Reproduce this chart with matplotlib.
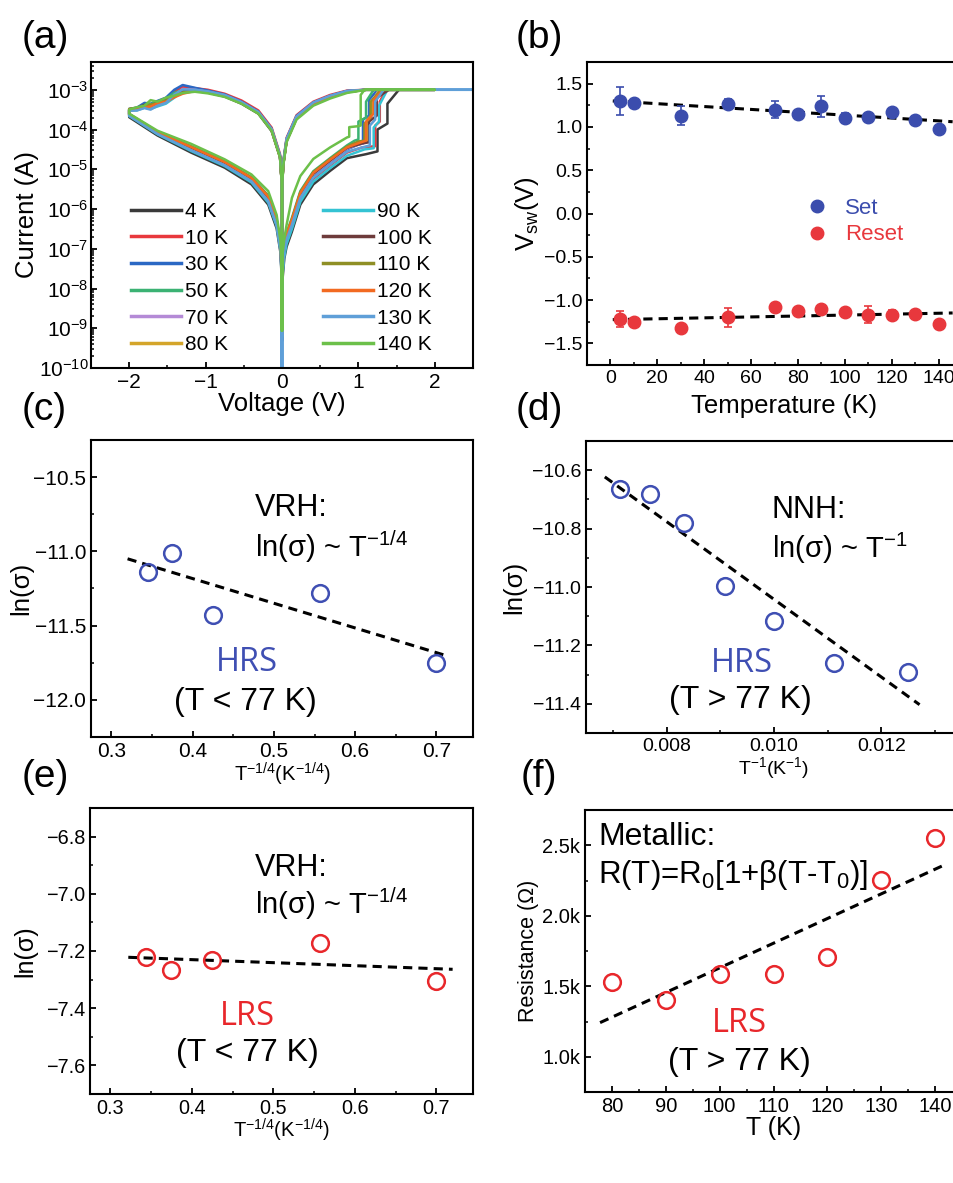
import numpy as np
import matplotlib
matplotlib.use("Agg")
import matplotlib.pyplot as plt
from matplotlib.lines import Line2D
from matplotlib.ticker import MultipleLocator, FuncFormatter, LogLocator, NullFormatter

# ── Panel (a): I-V loops, log10(current) ────────────────────────────────
TEMPS = ["4 K", "10 K", "30 K", "50 K", "70 K", "80 K",
         "90 K", "100 K", "110 K", "120 K", "130 K", "140 K"]
COLORS = ["#3a3a3a", "#e8383d", "#2b68c4", "#3bb273", "#b48ad6", "#d4a52a",
          "#34c3d3", "#6e3b3b", "#8f8f25", "#f26a21", "#5f9fd8", "#6cc04a"]

V_HRS_POS = [0.0, 0.003, 0.01, 0.03, 0.06, 0.13, 0.24, 0.41, 0.63, 0.85]
HRS_POS = [
    [-9.3, -8.2, -7.7, -7.25, -6.95, -6.57, -5.89, -5.38, -5.04, -4.72],
    [-9.2, -8.0, -7.5, -7.1, -6.8, -6.42, -5.75, -5.24, -4.90, -4.58],
    [-9.1, -7.9, -7.4, -6.95, -6.7, -6.33, -5.66, -5.16, -4.82, -4.50],
    [-9.0, -7.8, -7.3, -6.9, -6.6, -6.22, -5.55, -5.05, -4.72, -4.40],
    [-9.1, -7.9, -7.4, -6.95, -6.68, -6.32, -5.64, -5.13, -4.80, -4.48],
    [-9.1, -7.9, -7.35, -6.9, -6.65, -6.28, -5.60, -5.10, -4.76, -4.45],
    [-9.2, -8.1, -7.6, -7.2, -6.88, -6.5, -5.82, -5.31, -4.97, -4.66],
    [-9.1, -7.9, -7.4, -6.95, -6.66, -6.30, -5.62, -5.11, -4.78, -4.46],
    [-9.0, -7.8, -7.35, -6.9, -6.62, -6.26, -5.58, -5.07, -4.74, -4.43],
    [-9.15, -7.85, -7.35, -6.9, -6.63, -6.27, -5.60, -5.09, -4.76, -4.45],
    [-10.5, -8.0, -7.5, -7.05, -6.76, -6.4, -5.72, -5.21, -4.88, -4.56],
    [-9.05, -7.6, -7.1, -6.75, -6.4, -5.72, -5.17, -4.74, -4.45, -4.2],
]
# stepwise set transitions (voltage, log10 I)
SET_V = [
    [1.1, 1.25, 1.25, 1.38, 1.38, 1.53],
    [1.05, 1.22, 1.22, 1.28, 1.28, 1.36],
    [1.0, 1.06, 1.06, 1.14, 1.14, 1.25],
    [0.95, 1.0, 1.0, 1.1, 1.1, 1.2],
    [1.02, 1.1, 1.1, 1.17, 1.17, 1.27],
    [1.03, 1.12, 1.12, 1.18, 1.18, 1.28],
    [1.08, 1.2, 1.2, 1.27, 1.27, 1.38],
    [1.05, 1.14, 1.14, 1.24, 1.24, 1.4],
    [1.0, 1.08, 1.08, 1.16, 1.16, 1.3],
    [1.02, 1.1, 1.1, 1.2, 1.2, 1.32],
    [1.05, 1.15, 1.15, 1.22, 1.22, 1.33],
    [0.88, 0.88, 0.98, 1.03, 1.03, 1.08],
]
SET_I = [
    [-4.62, -4.55, -4.0, -3.85, -3.35, -3.0],
    [-4.45, -4.42, -3.9, -3.8, -3.3, -3.0],
    [-4.38, -4.35, -3.75, -3.65, -3.25, -3.0],
    [-4.28, -4.25, -3.8, -3.7, -3.3, -3.0],
    [-4.36, -4.33, -3.85, -3.7, -3.35, -3.0],
    [-4.33, -4.3, -3.75, -3.62, -3.3, -3.0],
    [-4.5, -4.47, -3.95, -3.8, -3.4, -3.0],
    [-4.35, -4.32, -3.8, -3.65, -3.2, -3.0],
    [-4.3, -4.28, -3.85, -3.7, -3.3, -3.0],
    [-4.33, -4.28, -3.8, -3.6, -3.25, -3.0],
    [-4.45, -4.4, -3.9, -3.75, -3.3, -3.0],
    [-4.18, -3.94, -3.92, -3.9, -3.13, -3.0],
]
V_MAX = [2.0, 2.0, 2.0, 2.0, 2.0, 2.0, 2.0, 2.0, 2.0, 2.0, 2.5, 2.0]
I_COMPLIANCE = -3.0

V_LRS_POS = [1.1, 0.85, 0.63, 0.41, 0.19, 0.06, 0.017, 0.005, 0.0]
LRS_POS = [
    [-3.0, -3.05, -3.18, -3.36, -3.71, -4.28, -4.87, -5.3, -9.3],
    [-3.0, -3.02, -3.13, -3.3, -3.64, -4.21, -4.8, -5.24, -9.2],
    [-3.0, -3.03, -3.15, -3.32, -3.66, -4.23, -4.82, -5.26, -9.1],
    [-3.0, -3.06, -3.19, -3.37, -3.72, -4.29, -4.88, -5.3, -9.0],
    [-3.0, -3.04, -3.16, -3.33, -3.68, -4.25, -4.84, -5.27, -9.1],
    [-3.0, -3.05, -3.17, -3.35, -3.7, -4.27, -4.86, -5.28, -9.1],
    [-3.0, -3.04, -3.17, -3.34, -3.69, -4.26, -4.85, -5.28, -9.2],
    [-3.0, -3.05, -3.18, -3.36, -3.71, -4.28, -4.87, -5.29, -9.1],
    [-3.0, -3.06, -3.19, -3.37, -3.72, -4.29, -4.88, -5.3, -9.0],
    [-3.0, -3.05, -3.18, -3.36, -3.71, -4.28, -4.87, -5.29, -9.15],
    [-3.0, -3.03, -3.15, -3.32, -3.67, -4.24, -4.83, -5.26, -10.5],
    [-3.0, -3.08, -3.22, -3.4, -3.75, -4.32, -4.9, -5.32, -9.05],
]

V_LRS_NEG = [-0.005, -0.026, -0.136, -0.31, -0.53, -0.75, -0.97, -1.14,
             -1.3, -1.41, -1.52, -1.63, -1.72, -1.8, -1.9, -2.0]
LRS_NEG = [
    [-5.3, -4.7, -4.04, -3.6, -3.35, -3.17, -3.07, -3.02, -2.98, -3.1, -3.24, -3.33, -3.42, -3.4, -3.5, -3.52],
    [-5.2, -4.62, -3.95, -3.52, -3.27, -3.1, -3.0, -2.96, -2.92, -3.05, -3.22, -3.3, -3.38, -3.36, -3.47, -3.5],
    [-5.25, -4.65, -3.98, -3.55, -3.3, -3.12, -3.02, -2.95, -2.88, -3.0, -3.2, -3.28, -3.35, -3.33, -3.45, -3.48],
    [-5.28, -4.68, -4.0, -3.58, -3.33, -3.15, -3.06, -3.02, -3.0, -3.08, -3.22, -3.3, -3.36, -3.38, -3.46, -3.5],
    [-5.27, -4.67, -4.0, -3.57, -3.32, -3.14, -3.05, -3.0, -2.98, -3.15, -3.3, -3.38, -3.45, -3.42, -3.5, -3.52],
    [-5.28, -4.68, -4.01, -3.58, -3.33, -3.16, -3.07, -3.03, -3.06, -3.18, -3.28, -3.35, -3.38, -3.44, -3.47, -3.5],
    [-5.27, -4.67, -4.0, -3.57, -3.32, -3.14, -3.05, -3.02, -3.02, -3.2, -3.35, -3.42, -3.48, -3.45, -3.52, -3.5],
    [-5.28, -4.68, -4.01, -3.58, -3.33, -3.15, -3.06, -3.02, -3.05, -3.14, -3.25, -3.32, -3.4, -3.38, -3.46, -3.49],
    [-5.29, -4.69, -4.02, -3.59, -3.34, -3.16, -3.07, -3.03, -3.07, -3.16, -3.27, -3.34, -3.37, -3.41, -3.45, -3.48],
    [-5.28, -4.68, -4.01, -3.58, -3.33, -3.15, -3.06, -3.03, -3.1, -3.19, -3.3, -3.34, -3.42, -3.44, -3.48, -3.5],
    [-5.26, -4.66, -3.99, -3.56, -3.31, -3.13, -3.04, -3.0, -2.99, -3.12, -3.33, -3.4, -3.5, -3.46, -3.52, -3.53],
    [-5.3, -4.7, -4.03, -3.6, -3.35, -3.18, -3.09, -3.05, -3.08, -3.15, -3.2, -3.3, -3.26, -3.4, -3.44, -3.5],
]

V_HRS_NEG = [-2.0, -1.63, -1.19, -0.75, -0.4, -0.18, -0.07, -0.02, -0.005, 0.0]
HRS_NEG = [
    [-3.69, -4.15, -4.58, -4.96, -5.38, -5.89, -6.49, -7.1, -7.7, -9.3],
    [-3.64, -4.1, -4.5, -4.88, -5.28, -5.78, -6.37, -7.0, -7.6, -9.2],
    [-3.63, -4.09, -4.48, -4.86, -5.26, -5.75, -6.34, -6.97, -7.57, -9.1],
    [-3.61, -4.06, -4.42, -4.8, -5.2, -5.66, -6.25, -6.88, -7.48, -9.0],
    [-3.63, -4.08, -4.47, -4.85, -5.25, -5.73, -6.32, -6.95, -7.55, -9.1],
    [-3.62, -4.07, -4.44, -4.82, -5.22, -5.7, -6.29, -6.92, -7.52, -9.1],
    [-3.66, -4.12, -4.54, -4.92, -5.33, -5.84, -6.43, -7.05, -7.65, -9.2],
    [-3.62, -4.07, -4.45, -4.83, -5.23, -5.71, -6.3, -6.93, -7.53, -9.1],
    [-3.61, -4.06, -4.43, -4.81, -5.21, -5.68, -6.27, -6.9, -7.5, -9.0],
    [-3.62, -4.07, -4.44, -4.82, -5.22, -5.69, -6.28, -6.91, -7.51, -9.15],
    [-3.65, -4.11, -4.52, -4.9, -5.3, -5.8, -6.4, -7.02, -7.62, -10.5],
    [-3.6, -4.03, -4.36, -4.75, -5.13, -5.55, -6.15, -6.8, -7.4, -9.05],
]

# ── Panel (b): switching voltages ───────────────────────────────────────
T_SW = [4, 10, 30, 50, 70, 80, 90, 100, 110, 120, 130, 140]
V_SET = [1.30, 1.28, 1.13, 1.27, 1.20, 1.15, 1.24, 1.10, 1.12, 1.17, 1.08, 0.98]
V_SET_ERR = [0.16, 0.02, 0.11, 0.05, 0.10, 0.03, 0.12, 0.06, 0.03, 0.03, 0.05, 0.02]
V_RESET = [-1.22, -1.25, -1.32, -1.20, -1.08, -1.13, -1.10, -1.14, -1.17, -1.17, -1.16, -1.28]
V_RESET_ERR = [0.09, 0.02, 0.02, 0.11, 0.02, 0.02, 0.02, 0.02, 0.10, 0.05, 0.02, 0.02]
FIT_T = [1, 146]
SET_FIT = [1.30, 1.06]
RESET_FIT = [-1.226, -1.149]

# ── Panel (c): HRS, T < 77 K ─────────────────────────────────────────────
C_X = [0.345, 0.375, 0.425, 0.557, 0.700]
C_Y = [-11.14, -11.01, -11.43, -11.28, -11.75]
C_FIT_X = [0.32, 0.715]
C_FIT_Y = [-11.05, -11.707]

# ── Panel (d): HRS, T > 77 K ─────────────────────────────────────────────
D_X = [0.00714, 0.00769, 0.00833, 0.00909, 0.0100, 0.01111, 0.0125]
D_Y = [-10.665, -10.68, -10.78, -10.995, -11.115, -11.26, -11.29]
D_FIT_X = [0.00685, 0.01271]
D_FIT_Y = [-10.623, -11.403]

# ── Panel (e): LRS, T < 77 K ─────────────────────────────────────────────
E_X = [0.3435, 0.375, 0.425, 0.557, 0.700]
E_Y = [-7.22, -7.267, -7.232, -7.172, -7.305]
E_FIT_X = [0.322, 0.72]
E_FIT_Y = [-7.222, -7.264]

# ── Panel (f): LRS resistance, T > 77 K ─────────────────────────────────
F_T = [80, 90, 100, 110, 120, 130, 140]
F_R = [1532, 1402, 1587, 1587, 1705, 2256, 2548]
F_FIT_T = [77.8, 142.0]
F_FIT_R = [1242, 2365]

BLUE = "#3f4fb3"
RED = "#e8272b"
SET_BLUE = "#3b4dad"
RESET_RED = "#e8383d"

# ── Style ────────────────────────────────────────────────────────────────
plt.rcParams["font.family"] = ["Liberation Sans", "DejaVu Sans"]
plt.rcParams["mathtext.fontset"] = "custom"
plt.rcParams["mathtext.rm"] = "Liberation Sans"
plt.rcParams["mathtext.it"] = "Liberation Sans:italic"
plt.rcParams["mathtext.default"] = "regular"
plt.rcParams["axes.linewidth"] = 1.5
for ax_ in ("xtick", "ytick"):
    plt.rcParams[f"{ax_}.direction"] = "in"
    plt.rcParams[f"{ax_}.major.size"] = 4
    plt.rcParams[f"{ax_}.minor.size"] = 2.5
    plt.rcParams[f"{ax_}.major.width"] = 1.3
    plt.rcParams[f"{ax_}.minor.width"] = 1.1

fig = plt.figure(figsize=(9.54, 11.83), dpi=100)
W, H = 954.0, 1183.0


def add_ax(left, top, right, bottom):
    return fig.add_axes([left / W, 1 - bottom / H, (right - left) / W, (bottom - top) / H])


def fit_line(ax, x, y):
    ax.plot(x, y, color="black", lw=2.2, ls=(0, (3, 2)), zorder=1)


# (a)
ax = add_ax(91, 62, 473, 368)
for i in range(len(TEMPS)):
    v = V_HRS_POS + SET_V[i] + [V_MAX[i]] + V_LRS_POS + V_LRS_NEG + V_HRS_NEG
    li = HRS_POS[i] + SET_I[i] + [I_COMPLIANCE] + LRS_POS[i] + LRS_NEG[i] + HRS_NEG[i]
    ax.plot(v, 10.0 ** np.array(li), color=COLORS[i], lw=1.8, label=TEMPS[i])
ax.set_yscale("log")
ax.set_xlim(-2.5, 2.5)
ax.set_ylim(1e-10, 5e-3)
ax.xaxis.set_major_locator(MultipleLocator(1))
ax.xaxis.set_minor_locator(MultipleLocator(0.5))
ax.yaxis.set_major_locator(LogLocator(base=10, numticks=20))
ax.yaxis.set_minor_locator(LogLocator(base=10, subs=np.arange(2, 10), numticks=20))
ax.yaxis.set_minor_formatter(NullFormatter())
ax.tick_params(labelsize=15)
ax.tick_params(axis="y", pad=2)
ax.set_xlabel("Voltage (V)", fontsize=18.5, labelpad=0)
ax.set_ylabel("Current (A)", fontsize=18.5, labelpad=0)
leg = ax.legend(ncol=2, frameon=False, fontsize=15, loc="upper left",
                bbox_to_anchor=(0.105, 0.543), handlelength=2.4, handletextpad=0.2,
                columnspacing=4.55, labelspacing=0.37, borderpad=0, borderaxespad=0)
for line in leg.get_lines():
    line.set_linewidth(2.5)

# (b)
ax = add_ax(587, 62, 962, 365)
fit_line(ax, FIT_T, SET_FIT)
fit_line(ax, FIT_T, RESET_FIT)
ax.errorbar(T_SW, V_SET, yerr=V_SET_ERR, fmt="o", color=SET_BLUE, ms=9,
            capsize=3, elinewidth=1.2, capthick=1.2, zorder=3)
ax.errorbar(T_SW, V_RESET, yerr=V_RESET_ERR, fmt="o", color=RESET_RED, ms=9,
            capsize=3, elinewidth=1.2, capthick=1.2, zorder=3)
ax.set_xlim(-10, 150)
ax.set_ylim(-1.75, 1.75)
ax.xaxis.set_major_locator(MultipleLocator(20))
ax.xaxis.set_minor_locator(MultipleLocator(10))
ax.yaxis.set_major_locator(MultipleLocator(0.5))
ax.yaxis.set_minor_locator(MultipleLocator(0.25))
ax.tick_params(labelsize=14)
ax.set_xlabel("Temperature (K)", fontsize=18.5, labelpad=0)
ax.xaxis.set_label_coords(0.525, -0.095)
ax.set_ylabel(r"V$_{\mathregular{sw}}$(V)", fontsize=18.5, labelpad=2)
handles = [Line2D([], [], ls="none", marker="o", ms=9, color=SET_BLUE),
           Line2D([], [], ls="none", marker="o", ms=9, color=RESET_RED)]
ax.legend(handles, ["Set", "Reset"], frameon=False, fontsize=16, loc="upper left",
          bbox_to_anchor=(0.585, 0.552), handletextpad=0.75, handlelength=1.0,
          labelspacing=0.25, borderpad=0, borderaxespad=0,
          labelcolor=[SET_BLUE, RESET_RED])

# (c)
ax = add_ax(91, 440, 473, 737)
fit_line(ax, C_FIT_X, C_FIT_Y)
ax.plot(C_X, C_Y, "o", mfc="none", mec=BLUE, ms=12, mew=1.8)
ax.set_xlim(0.275, 0.745)
ax.set_ylim(-12.25, -10.25)
ax.xaxis.set_major_locator(MultipleLocator(0.1))
ax.xaxis.set_minor_locator(MultipleLocator(0.05))
ax.yaxis.set_major_locator(MultipleLocator(0.5))
ax.yaxis.set_minor_locator(MultipleLocator(0.25))
ax.tick_params(labelsize=15)
ax.set_xlabel(r"T$^{-1/4}$(K$^{-1/4}$)", fontsize=14.5, labelpad=0)
ax.set_ylabel("ln(σ)", fontsize=18.5, labelpad=0)
ax.text(0.43, 0.77, "VRH:", transform=ax.transAxes, fontsize=22, va="center")
ax.text(0.43, 0.64, r"ln(σ) ~ T$^{-1/4}$", transform=ax.transAxes, fontsize=21, va="center")
ax.text(0.408, 0.25, "HRS", transform=ax.transAxes, fontsize=23.5, color=BLUE,
        ha="center", va="center", family="Open Sans")
ax.text(0.405, 0.118, "(T < 77 K)", transform=ax.transAxes, fontsize=23, ha="center", va="center")

# (d)
ax = add_ax(586, 441, 962, 733)
fit_line(ax, D_FIT_X, D_FIT_Y)
ax.plot(D_X, D_Y, "o", mfc="none", mec=BLUE, ms=12, mew=1.8)
ax.set_xlim(0.0065, 0.0135)
ax.set_ylim(-11.5, -10.5)
ax.xaxis.set_major_locator(MultipleLocator(0.002))
ax.xaxis.set_minor_locator(MultipleLocator(0.001))
ax.xaxis.set_major_formatter(FuncFormatter(lambda x, p: f"{x:.3f}"))
ax.yaxis.set_major_locator(MultipleLocator(0.2))
ax.yaxis.set_minor_locator(MultipleLocator(0.1))
ax.tick_params(labelsize=14)
ax.set_xlabel(r"T$^{-1}$(K$^{-1}$)", fontsize=14, labelpad=0)
ax.set_ylabel("ln(σ)", fontsize=18.5, labelpad=4)
ax.text(0.494, 0.763, "NNH:", transform=ax.transAxes, fontsize=22, va="center")
ax.text(0.494, 0.633, r"ln(σ) ~ T$^{-1}$", transform=ax.transAxes, fontsize=21, va="center")
ax.text(0.414, 0.239, "HRS", transform=ax.transAxes, fontsize=23.5, color=BLUE,
        ha="center", va="center", family="Open Sans")
ax.text(0.41, 0.113, "(T > 77 K)", transform=ax.transAxes, fontsize=23, ha="center", va="center")

# (e)
ax = add_ax(90, 808, 473, 1094)
fit_line(ax, E_FIT_X, E_FIT_Y)
ax.plot(E_X, E_Y, "o", mfc="none", mec=RED, ms=12, mew=1.8)
ax.set_xlim(0.275, 0.745)
ax.set_ylim(-7.7, -6.7)
ax.xaxis.set_major_locator(MultipleLocator(0.1))
ax.xaxis.set_minor_locator(MultipleLocator(0.05))
ax.yaxis.set_major_locator(MultipleLocator(0.2))
ax.yaxis.set_minor_locator(MultipleLocator(0.1))
ax.tick_params(labelsize=14.3)
ax.set_xlabel(r"T$^{-1/4}$(K$^{-1/4}$)", fontsize=14.5, labelpad=-1)
ax.set_ylabel("ln(σ)", fontsize=18, labelpad=6)
ax.text(0.431, 0.79, "VRH:", transform=ax.transAxes, fontsize=22, va="center")
ax.text(0.431, 0.667, r"ln(σ) ~ T$^{-1/4}$", transform=ax.transAxes, fontsize=21, va="center")
ax.text(0.41, 0.27, "LRS", transform=ax.transAxes, fontsize=23.5, color=RED,
        ha="center", va="center", family="Open Sans")
ax.text(0.41, 0.142, "(T < 77 K)", transform=ax.transAxes, fontsize=23, ha="center", va="center")

# (f)
ax = add_ax(585, 810, 962, 1092)
fit_line(ax, F_FIT_T, F_FIT_R)
ax.plot(F_T, F_R, "o", mfc="none", mec=RED, ms=12, mew=1.8)
ax.set_xlim(75, 145)
ax.set_ylim(750, 2750)
ax.xaxis.set_major_locator(MultipleLocator(10))
ax.xaxis.set_minor_locator(MultipleLocator(5))
ax.yaxis.set_major_locator(MultipleLocator(500))
ax.yaxis.set_minor_locator(MultipleLocator(250))
ax.yaxis.set_major_formatter(FuncFormatter(lambda y, p: f"{y / 1000:.1f}k"))
ax.tick_params(labelsize=14.5)
ax.set_xlabel("T (K)", fontsize=18, labelpad=0)
ax.set_ylabel("Resistance (Ω)", fontsize=15.5, labelpad=2)
ax.text(0.035, 0.905, "Metallic:", transform=ax.transAxes, fontsize=23, va="center")
ax.text(0.035, 0.769, r"R(T)=R$_0$[1+β(T-T$_0$)]", transform=ax.transAxes, fontsize=22.5, va="center")
ax.text(0.41, 0.243, "LRS", transform=ax.transAxes, fontsize=23.5, color=RED,
        ha="center", va="center", family="Open Sans")
ax.text(0.41, 0.107, "(T > 77 K)", transform=ax.transAxes, fontsize=23, ha="center", va="center")

# panel letters
for lab, x, y in [("(a)", 22, 38), ("(b)", 516, 38), ("(c)", 22, 410),
                  ("(d)", 516, 410), ("(e)", 22, 777), ("(f)", 521, 777)]:
    fig.text(x / W, 1 - y / H, lab, fontsize=28, va="center", ha="left")

fig.savefig("out.png", dpi=100)
